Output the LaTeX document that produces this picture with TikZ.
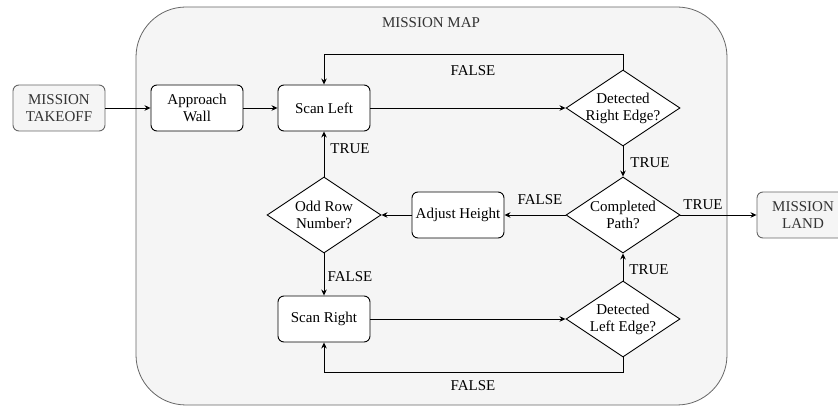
\documentclass[tikz,border=0pt]{standalone}
\usepackage{fontspec}
\setmainfont{Liberation Serif}
\usetikzlibrary{shapes.geometric,arrows.meta}
\definecolor{boxfill}{HTML}{F5F5F5}
\definecolor{boxline}{HTML}{666666}
\definecolor{boxtext}{HTML}{333333}
\begin{document}
\begin{tikzpicture}[x=1pt,y=1pt,
  every node/.style={font=\fontsize{15}{17}\selectfont},
  procbox/.style={draw=black, fill=white, rounded corners=6pt, minimum width=92pt, minimum height=46pt, inner sep=0pt, align=center, line width=0.9pt},
  termbox/.style={draw=boxline, fill=boxfill, text=boxtext, rounded corners=6pt, minimum width=92pt, minimum height=46pt, inner sep=0pt, align=center, line width=0.9pt},
  decbox/.style={draw=black, fill=white, diamond, minimum width=114pt, minimum height=76pt, inner sep=0pt, line width=0.9pt},
  flow/.style={draw=black, line width=0.9pt, -{Stealth[length=6pt,width=5.5pt]}},
  lbl/.style={inner sep=0pt, text=black}
]
\useasboundingbox (0,0) rectangle (838,407);
% container
\node[draw=boxline, fill=boxfill, rounded corners=50pt, line width=0.8pt, minimum width=591pt, minimum height=398pt, inner sep=0pt] (map) at (431.5,201) {};
\node[lbl, text=boxtext] (maplbl) at (431,384) {MISSION MAP};

\node[termbox] (takeoff) at (59,299) {MISSION\\TAKEOFF};
\node[procbox] (approach) at (197,299) {Approach\\Wall};
\node[procbox] (scanl) at (324,299) {Scan Left};
\node[decbox, label={[align=center,font=\fontsize{15}{17}\selectfont]center:Detected\\Right Edge?}] (dre) at (623,299) {};
\node[decbox, label={[align=center,font=\fontsize{15}{17}\selectfont]center:Completed\\Path?}] (cp) at (623,192) {};
\node[procbox] (adj) at (458,192) {Adjust Height};
\node[decbox, label={[align=center,font=\fontsize{15}{17}\selectfont]center:Odd Row\\Number?}] (odd) at (324,192) {};
\node[procbox] (scanr) at (324,88) {Scan Right};
\node[decbox, label={[align=center,font=\fontsize{15}{17}\selectfont]center:Detected\\Left Edge?}] (dle) at (623,88) {};
\node[termbox] (land) at (803,192) {MISSION\\LAND};

\coordinate (topr) at (623,353);
\coordinate (topl) at (324,353);
\coordinate (botr) at (623,35);
\coordinate (botl) at (324,35);

\draw[flow] (takeoff) -- (approach);
\draw[flow] (approach) -- (scanl);
\draw[flow] (scanl) -- (dre.west);
\draw[flow] (dre.north) -- (topr) -- (topl) -- (scanl.north);
\draw[flow] (dre.south) -- (cp.north);
\draw[flow] (cp.west) -- (adj.east);
\draw[flow] (adj.west) -- (odd.east);
\draw[flow] (odd.north) -- (scanl.south);
\draw[flow] (odd.south) -- (scanr.north);
\draw[flow] (scanr.east) -- (dle.west);
\draw[flow] (dle.south) -- (botr) -- (botl) -- (scanr.south);
\draw[flow] (dle.north) -- (cp.south);
\draw[flow] (cp.east) -- (land.west);

\node[lbl] (l1) at (473,336) {FALSE};
\node[lbl] (l2) at (650,244) {TRUE};
\node[lbl] (l3) at (540,207) {FALSE};
\node[lbl] (l4) at (703,202) {TRUE};
\node[lbl] (l5) at (350,258) {TRUE};
\node[lbl] (l6) at (350,130) {FALSE};
\node[lbl] (l7) at (649,137) {TRUE};
\node[lbl] (l8) at (473,21) {FALSE};
\end{tikzpicture}
\end{document}
